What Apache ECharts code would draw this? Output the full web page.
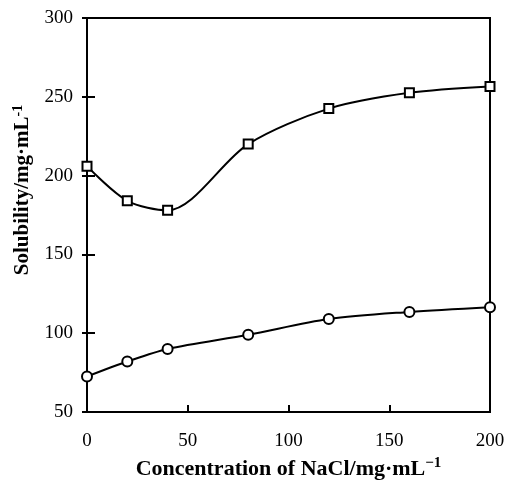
<!DOCTYPE html>
<html>
<head>
<meta charset="utf-8">
<script src="https://cdn.jsdelivr.net/npm/echarts@6/dist/echarts.min.js"></script>
<style>
  html, body { margin: 0; padding: 0; background: #fff; }
  #main { width: 505px; height: 480px; }
</style>
</head>
<body>
<div id="main"></div>
<script>
// 数据
var nacl = [0, 20, 40, 80, 120, 160, 200];
var squareVals = [206, 184, 178, 220, 242.5, 252.5, 256.5];
var circleVals = [72.5, 82, 90, 99, 109, 113.5, 116.5];
var xTicks = [0, 50, 100, 150, 200];
var yTicks = [50, 100, 150, 200, 250, 300];

function pairs(xs, ys) {
  return xs.map(function (x, i) { return [x, ys[i]]; });
}

var chart = echarts.init(document.getElementById('main'));
var font = 'Liberation Serif';

var option = {
  backgroundColor: '#fff',
  animation: false,
  grid: {
    left: 87, top: 18, right: 15, bottom: 68,
    outerBoundsMode: 'none',
    containLabel: false,
    show: true, borderColor: '#000', borderWidth: 2
  },
  xAxis: {
    type: 'value',
    min: xTicks[0], max: xTicks[xTicks.length - 1], interval: 50,
    name: 'Concentration of NaCl/mg·mL{sup|−1}',
    nameLocation: 'middle', nameGap: 42,
    nameTextStyle: {
      fontFamily: font, fontSize: 22, fontWeight: 'bold', color: '#000',
      rich: { sup: { fontFamily: font, fontSize: 15, fontWeight: 'bold', color: '#000', padding: [0, 0, 11, 0] } }
    },
    axisLine: { lineStyle: { color: '#000', width: 2 } },
    axisTick: { inside: true, length: 7, lineStyle: { color: '#000', width: 2 } },
    axisLabel: { fontFamily: font, fontSize: 19, color: '#000', margin: 20 },
    splitLine: { show: false }
  },
  yAxis: [{
    type: 'value',
    min: yTicks[0], max: yTicks[yTicks.length - 1], interval: 50,
    name: 'Solubility/mg·mL{sup|-1}',
    nameLocation: 'middle', nameGap: 52,
    nameTextStyle: {
      fontFamily: font, fontSize: 21, fontWeight: 'bold', color: '#000',
      padding: [0, 0, 0, 50],
      rich: { sup: { fontFamily: font, fontSize: 14, fontWeight: 'bold', color: '#000', padding: [0, 0, 10, 0] } }
    },
    axisLine: { lineStyle: { color: '#000', width: 2 } },
    axisTick: { inside: false, length: 5, lineStyle: { color: '#000', width: 2 } },
    axisLabel: { fontFamily: font, fontSize: 19, color: '#000', margin: 14 },
    splitLine: { show: false }
  }, {
    type: 'value', position: 'left',
    min: yTicks[0], max: yTicks[yTicks.length - 1], interval: 50,
    axisLine: { show: false },
    axisTick: { inside: true, length: 8, lineStyle: { color: '#000', width: 2 } },
    axisLabel: { show: false },
    splitLine: { show: false }
  }],
  series: [{
    type: 'line',
    data: pairs(nacl, squareVals),
    smooth: 0.3,
    symbol: 'rect', symbolSize: 9,
    lineStyle: { color: '#000', width: 2 },
    itemStyle: { color: '#fff', borderColor: '#000', borderWidth: 2 }
  }, {
    type: 'line',
    data: pairs(nacl, circleVals),
    smooth: 0.3,
    symbol: 'circle', symbolSize: 10,
    lineStyle: { color: '#000', width: 2 },
    itemStyle: { color: '#fff', borderColor: '#000', borderWidth: 2 }
  }]
};

chart.setOption(option);
</script>
</body>
</html>
